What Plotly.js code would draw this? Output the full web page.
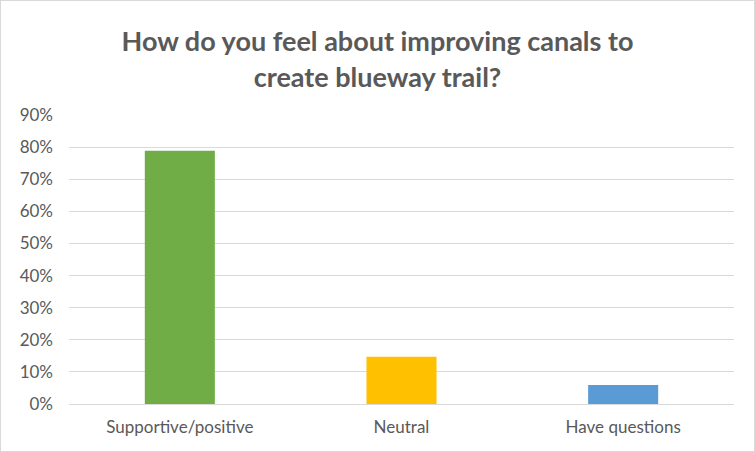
<!DOCTYPE html>
<html>
<head>
<meta charset="utf-8">
<script src="https://cdn.plot.ly/plotly-3.0.1.min.js"></script>
<style>
html,body{margin:0;padding:0;background:#fff;}
#wrap{width:753px;height:450px;border:1px solid #d9d9d9;}
#chart{width:753px;height:450px;}
</style>
</head>
<body>
<div id="wrap"><div id="chart"></div></div>
<script>
var categories = ["Supportive/positive", "Neutral", "Have questions"];
var values = [0.789, 0.147, 0.059];
var barColors = ["#70AD47", "#FFC000", "#5B9BD5"];
var yTickVals = [0, 0.1, 0.2, 0.3, 0.4, 0.5, 0.6, 0.7, 0.8, 0.9];
var yTickText = ["0%", "10%", "20%", "30%", "40%", "50%", "60%", "70%", "80%", "90%"];
var titleText = "How do you feel about improving canals to<br>create blueway trail?";

var trace = {
  type: "bar",
  x: categories,
  y: values,
  marker: {color: barColors},
  hoverinfo: "x+y"
};

var layout = {
  width: 753,
  height: 450,
  margin: {l: 68, r: 20, t: 114, b: 47},
  paper_bgcolor: "#ffffff",
  plot_bgcolor: "#ffffff",
  font: {family: "Lato, 'Open Sans', sans-serif", color: "#595959", size: 17},
  title: {
    text: titleText,
    font: {family: "Lato, 'Open Sans', sans-serif", size: 27, color: "#595959", weight: "bold"},
    x: 0.5,
    xanchor: "center",
    yref: "container",
    y: 0.888,
    yanchor: "middle"
  },
  bargap: 0.684,
  showlegend: false,
  xaxis: {
    type: "category",
    showgrid: false,
    showline: false,
    zeroline: false,
    ticks: "",
    ticklabelstandoff: 11,
    tickfont: {size: 17, color: "#595959"}
  },
  yaxis: {
    range: [0, 0.9],
    tickvals: yTickVals,
    ticktext: yTickText,
    showgrid: true,
    gridcolor: "#d9d9d9",
    gridwidth: 1,
    zeroline: true,
    zerolinecolor: "#d9d9d9",
    zerolinewidth: 1,
    showline: false,
    ticks: "",
    ticklabelstandoff: 15,
    tickfont: {size: 17, color: "#595959"}
  }
};

Plotly.newPlot("chart", [trace], layout, {displayModeBar: false, staticPlot: true});
</script>
</body>
</html>
